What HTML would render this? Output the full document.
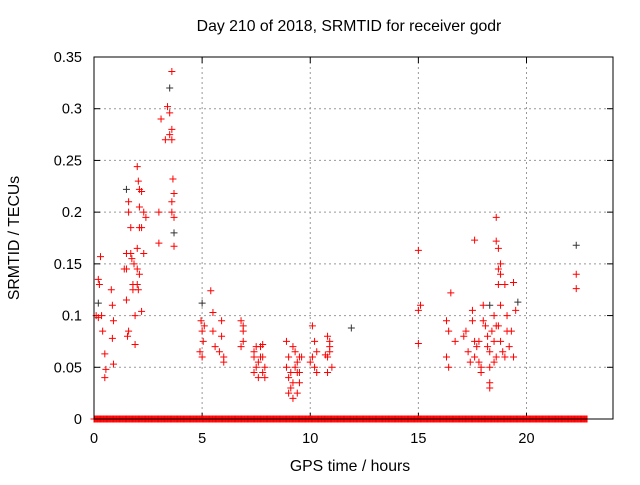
<!DOCTYPE html>
<html><head><meta charset="utf-8"><style>
body{margin:0;background:#fff;}
svg text{font-family:"Liberation Sans",sans-serif;font-size:14.5px;fill:#000;}
svg text.big{font-size:15.8px;}
</style></head><body>
<svg id="chart" width="640" height="480" xmlns="http://www.w3.org/2000/svg">
<text class="big" x="349" y="31" text-anchor="middle">Day 210 of 2018, SRMTID for receiver godr</text>
<text class="big" x="350" y="471" text-anchor="middle">GPS time / hours</text>
<text class="big" transform="translate(19,238) rotate(-90)" text-anchor="middle">SRMTID / TECUs</text>
<g id="grid"></g><g id="ticks"></g><g id="pts"></g>
<rect x="94" y="57" width="519" height="362" fill="none" stroke="#000" stroke-width="1"/>
</svg>
<script>
const xTicks=[0,5,10,15,20];
const yTicks=[0,0.05,0.1,0.15,0.2,0.25,0.3,0.35];
const yTickLabels=["0","0.05","0.1","0.15","0.2","0.25","0.3","0.35"];
const redT=[0.1,0.2,0.25,0.3,0.35,0.4,0.5,0.5,0.55,0.8,0.85,0.9,0.85,0.9,0.2,
1.4,1.5,1.5,1.6,1.6,1.7,1.7,1.75,1.8,1.8,1.85,1.9,1.9,1.6,1.5,1.55,2.0,2.05,2.1,2.2,2.1,2.1,2.2,2.0,2.0,2.05,2.1,2.3,2.4,2.2,2.0,2.3,
3.0,3.0,3.1,3.3,3.4,3.5,3.6,3.6,3.6,3.5,3.65,3.7,3.7,3.6,3.7,3.6,
4.95,5.0,5.0,5.05,5.1,4.9,5.4,5.5,5.5,5.6,5.9,5.9,6.0,6.0,5.8,
6.8,6.9,6.9,6.8,6.9,7.5,7.4,7.4,7.5,7.6,7.7,7.8,7.9,7.7,7.6,7.4,7.8,7.9,7.8,
8.9,9.0,9.0,9.1,9.2,9.0,9.3,9.4,9.5,9.3,9.2,9.4,9.5,9.5,9.1,9.2,8.9,9.4,9.6,
10.1,10.2,10.1,10.2,10.3,10.0,10.3,10.8,10.9,10.8,10.9,10.8,11.0,10.9,10.7,
15.0,15.0,15.1,15.0,
16.3,16.4,16.3,16.4,16.5,16.7,17.1,17.2,17.3,17.4,17.5,17.5,17.6,17.6,17.6,17.7,17.8,17.9,17.9,17.8,
18.0,18.0,18.1,18.2,18.2,18.3,18.3,18.3,18.3,18.4,18.5,18.5,18.6,18.6,18.7,18.7,18.8,18.8,18.7,18.8,18.7,18.8,18.9,19.0,19.0,19.1,19.1,18.6,18.5,18.6,19.2,19.4,19.3,19.5,19.4,
22.3,22.3];
const redV=[0.10,0.135,0.13,0.157,0.10,0.085,0.063,0.04,0.048,0.125,0.11,0.095,0.078,0.053,0.098,
0.145,0.16,0.145,0.21,0.20,0.185,0.16,0.155,0.13,0.125,0.15,0.10,0.072,0.085,0.115,0.08,0.244,0.23,0.222,0.22,0.205,0.185,0.185,0.165,0.145,0.125,0.14,0.2,0.195,0.104,0.13,0.16,
0.2,0.17,0.29,0.27,0.302,0.275,0.28,0.27,0.336,0.296,0.232,0.218,0.195,0.21,0.167,0.2,
0.095,0.085,0.06,0.075,0.09,0.065,0.124,0.103,0.085,0.07,0.095,0.08,0.06,0.055,0.065,
0.095,0.09,0.075,0.07,0.085,0.07,0.065,0.06,0.05,0.055,0.07,0.045,0.04,0.06,0.04,0.045,0.06,0.05,0.072,
0.075,0.06,0.04,0.03,0.02,0.025,0.05,0.045,0.035,0.065,0.07,0.055,0.06,0.045,0.045,0.035,0.05,0.025,0.06,
0.09,0.075,0.06,0.05,0.045,0.055,0.065,0.08,0.075,0.06,0.07,0.045,0.05,0.065,0.062,
0.163,0.105,0.11,0.073,
0.095,0.085,0.06,0.05,0.122,0.075,0.08,0.085,0.065,0.055,0.105,0.095,0.173,0.075,0.06,0.07,0.075,0.05,0.045,0.055,
0.11,0.095,0.09,0.08,0.07,0.065,0.05,0.035,0.03,0.085,0.1,0.075,0.195,0.172,0.165,0.145,0.15,0.14,0.13,0.11,0.09,0.075,0.065,0.06,0.13,0.1,0.085,0.06,0.055,0.09,0.07,0.06,0.085,0.105,0.132,
0.14,0.126];
const blackT=[0.2,1.5,3.5,3.7,5.0,11.9,18.3,19.6,22.3];
const blackV=[0.112,0.222,0.32,0.18,0.112,0.088,0.11,0.113,0.168];
const zeroStart=0, zeroEnd=22.8, zeroStep=0.04;
const X=t=>94+t*(519/24), Y=v=>419-v*(362/0.35);
const NS="http://www.w3.org/2000/svg";
const g=document.getElementById('grid'),tk=document.getElementById('ticks'),P=document.getElementById('pts');
function mk(tag,a,p){const e=document.createElementNS(NS,tag);for(const k in a)e.setAttribute(k,a[k]);p.appendChild(e);return e;}
xTicks.forEach(t=>{
 if(t>0){const l=mk('line',{x1:X(t),x2:X(t),y1:57,y2:419,stroke:'#999','stroke-dasharray':'2,3'},g);
 
 }
 mk('line',{x1:X(t),x2:X(t),y1:419,y2:413,stroke:'#000'},tk);
 mk('line',{x1:X(t),x2:X(t),y1:57,y2:63,stroke:'#000'},tk);
 const tx=mk('text',{x:X(t),y:443,'text-anchor':'middle'},tk);tx.textContent=t;
 
 
});
yTicks.forEach((v,i)=>{
 if(v>0&&v<0.35){const l=mk('line',{x1:94,x2:613,y1:Y(v),y2:Y(v),stroke:'#999','stroke-dasharray':'2,3'},g);
 
 }
 mk('line',{x1:94,x2:100,y1:Y(v),y2:Y(v),stroke:'#000'},tk);
 mk('line',{x1:607,x2:613,y1:Y(v),y2:Y(v),stroke:'#000'},tk);
 const tx=mk('text',{x:82,y:Y(v)+5,'text-anchor':'end'},tk);tx.textContent=yTickLabels[i];
 
 
});
function cross(t,v,c,name){
 const x=X(t),y=Y(v);
 const p=mk('path',{d:`M${x-3.5},${y}H${x+3.5}M${x},${y-3.5}V${y+3.5}`,stroke:c,'stroke-width':1,fill:'none'},P);
 
 
}
for(let t=zeroStart;t<=zeroEnd;t+=zeroStep)cross(t,0,'#f00','zero-point');
blackT.forEach((t,i)=>cross(t,blackV[i],'#333','black-point'));
redT.forEach((t,i)=>cross(t,redV[i],'#f00','red-point'));
</script>
</body></html>
